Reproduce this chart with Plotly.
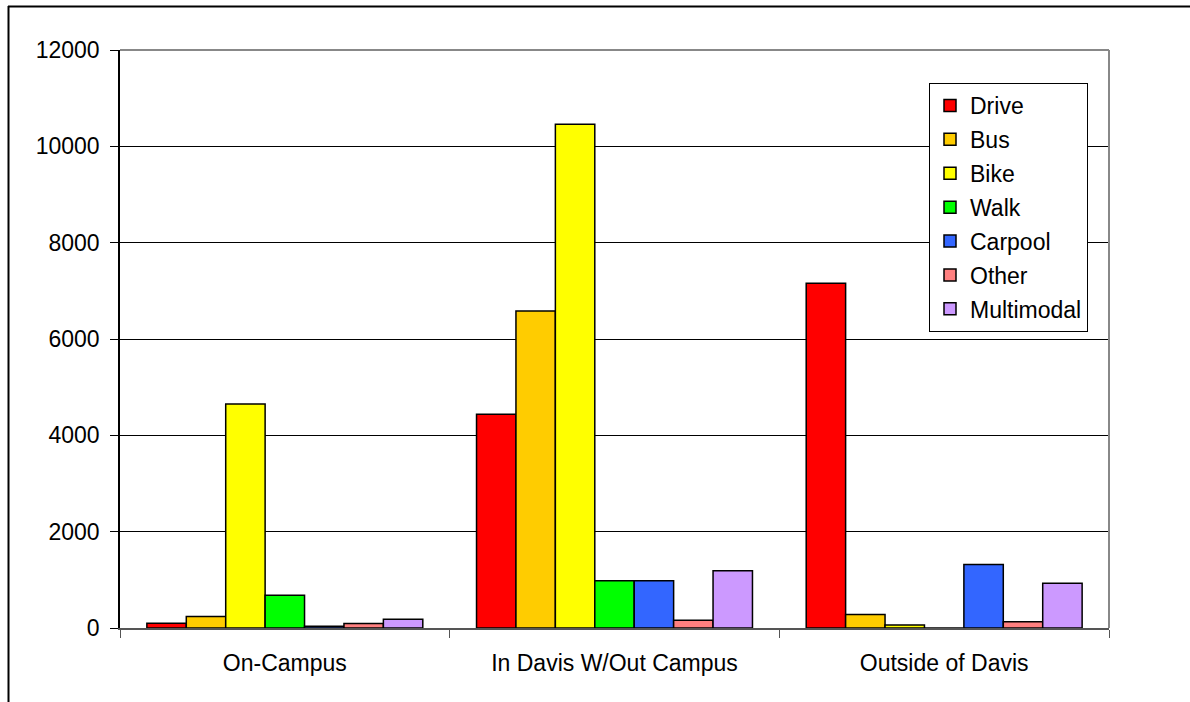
import plotly.graph_objects as go

categories = ["On-Campus", "In Davis W/Out Campus", "Outside of Davis"]
modes = ["Drive", "Bus", "Bike", "Walk", "Carpool", "Other", "Multimodal"]
drive = [100, 4440, 7160]
bus = [240, 6580, 280]
bike = [4650, 10460, 60]
walk = [680, 980, 0]
carpool = [35, 980, 1320]
other = [95, 160, 130]
multimodal = [180, 1190, 930]
colors = ["#FF0000", "#FFCC00", "#FFFF00", "#00FF00", "#3366FF", "#FF8080", "#CC99FF"]
y_ticks = [0, 2000, 4000, 6000, 8000, 10000, 12000]

series = [drive, bus, bike, walk, carpool, other, multimodal]

FONT = "Liberation Sans, Arial, sans-serif"
FS = 23

fig = go.Figure()
for name, vals, col in zip(modes, series, colors):
    fig.add_trace(go.Bar(
        name=name, x=categories, y=vals, legendgroup=name,
        marker=dict(color=col, line=dict(color="black", width=1.5)),
    ))

W, H = 1190, 702
L, R, T, B = 120, 1109, 50, 628

def px(x):
    return (x - L) / (R - L)

def py(y):
    return (B - y) / (B - T)

fig.update_layout(
    width=W, height=H,
    margin=dict(l=L, r=W - R, t=T, b=H - B, pad=0),
    paper_bgcolor="white", plot_bgcolor="white",
    barmode="group", bargap=0.163, bargroupgap=0,
    font=dict(family=FONT, size=FS, color="black"),
    legend=dict(
        x=px(929), y=py(83), xanchor="left", yanchor="top",
        bordercolor="black", borderwidth=1, bgcolor="white",
        font=dict(family=FONT, size=FS, color="black"),
        tracegroupgap=1, itemwidth=30, traceorder="grouped",
    ),
    xaxis=dict(
        showline=True, linecolor="#555555", linewidth=2,
        ticks="outside", tickson="boundaries", ticklen=8, tickcolor="#555555",
        showgrid=False, ticklabelstandoff=13,
        tickfont=dict(family=FONT, size=FS, color="black"),
    ),
    yaxis=dict(
        range=[0, 12000], tickvals=y_ticks, ticktext=[str(v) for v in y_ticks],
        showline=True, linecolor="black", linewidth=1.5,
        ticks="outside", ticklen=8, tickcolor="black",
        showgrid=True, gridcolor="black", gridwidth=1, zeroline=False,
        ticklabelstandoff=6,
        tickfont=dict(family=FONT, size=FS, color="black"),
    ),
    shapes=[
        dict(type="line", xref="paper", yref="paper", x0=0, x1=1, y0=1, y1=1,
             line=dict(color="#888888", width=2)),
        dict(type="line", xref="paper", yref="paper", x0=1, x1=1, y0=0, y1=1,
             line=dict(color="#888888", width=2)),
        dict(type="line", xref="paper", yref="paper",
             x0=px(8.5), x1=px(8.5), y0=-1, y1=py(6),
             line=dict(color="black", width=2)),
        dict(type="line", xref="paper", yref="paper",
             x0=px(8), x1=2, y0=py(6.5), y1=py(6.5),
             line=dict(color="black", width=2)),
    ],
)

fig.write_html("out.html", config={"displayModeBar": False},
               post_script="document.body.style.margin='0px';")
